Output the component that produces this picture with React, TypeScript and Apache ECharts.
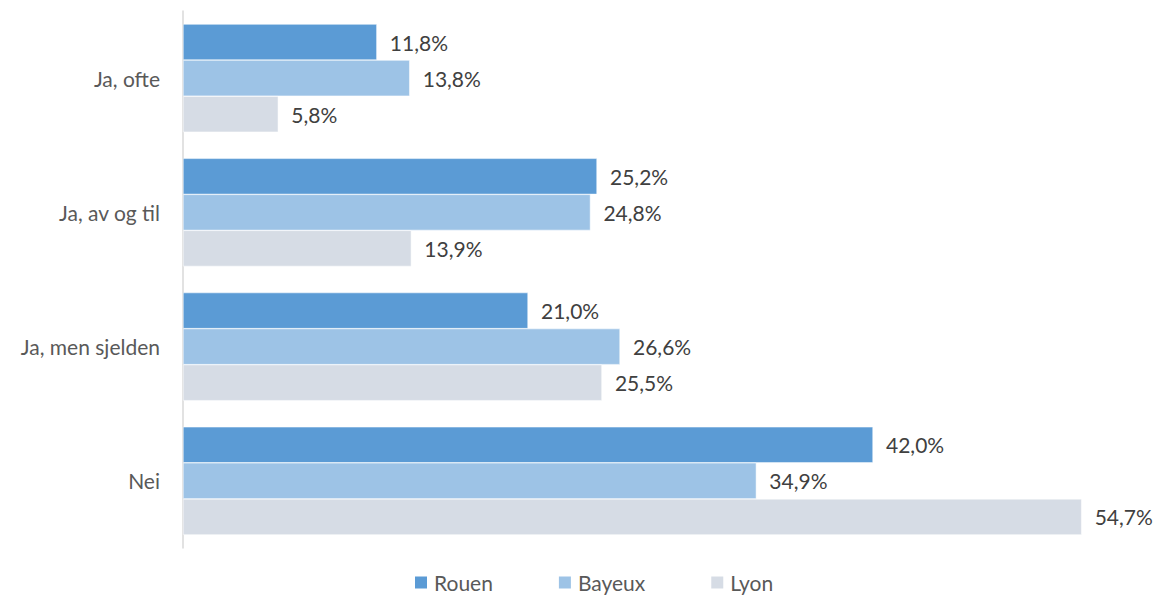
import React, { useEffect, useRef } from "react";
import * as echarts from "echarts";

const categories = ["Ja, ofte", "Ja, av og til", "Ja, men sjelden", "Nei"];
const seriesNames = ["Rouen", "Bayeux", "Lyon"];
const rouen = [11.8, 25.2, 21.0, 42.0];
const bayeux = [13.8, 24.8, 26.6, 34.9];
const lyon = [5.8, 13.9, 25.5, 54.7];
const colors = ["#5B9BD5", "#9DC3E6", "#D6DCE5"];

const FONT = "Lato, 'Open Sans', sans-serif";
const FS = 21;

export default function App() {
  const ref = useRef<HTMLDivElement>(null);
  useEffect(() => {
    if (!ref.current) return;
    const chart = echarts.init(ref.current, undefined, { renderer: "svg" });
    const data = [rouen, bayeux, lyon];
    chart.setOption({
      animation: false,
      textStyle: { fontFamily: FONT },
      grid: { left: 183, right: 61, top: 11, bottom: 49, containLabel: false },
      legend: {
        top: 567,
        left: 408,
        itemWidth: 14,
        itemHeight: 14,
        itemGap: 64,
        icon: "rect",
        textStyle: { fontFamily: FONT, fontSize: FS, color: "#595959", padding: [0, 0, 0, 1] },
        data: seriesNames,
      },
      xAxis: {
        type: "value",
        min: 0,
        max: 56,
        show: false,
        splitLine: { show: false },
      },
      yAxis: {
        type: "category",
        data: categories,
        inverse: true,
        axisLine: { show: true, lineStyle: { color: "#D9D9D9", width: 1.5 } },
        axisTick: { show: false },
        axisLabel: { fontFamily: FONT, fontSize: FS, color: "#595959", margin: 23 },
      },
      series: seriesNames.map((name, i) => ({
        name,
        type: "bar",
        data: data[i],
        barGap: "0%",
        barCategoryGap: "19.5%",
        itemStyle: { color: colors[i], borderColor: "#ffffff", borderWidth: 0.5 },
        label: {
          show: true,
          position: "right",
          distance: 13,
          fontFamily: FONT,
          fontSize: FS,
          color: "#404040",
          formatter: (p: any) => p.value.toFixed(1).replace(".", ",") + "%",
        },
      })),
    });
    return () => chart.dispose();
  }, []);
  return (
    <div
      ref={ref}
      style={{ position: "fixed", left: 0, top: 0, width: 1164, height: 597, background: "#fff" }}
    />
  );
}
